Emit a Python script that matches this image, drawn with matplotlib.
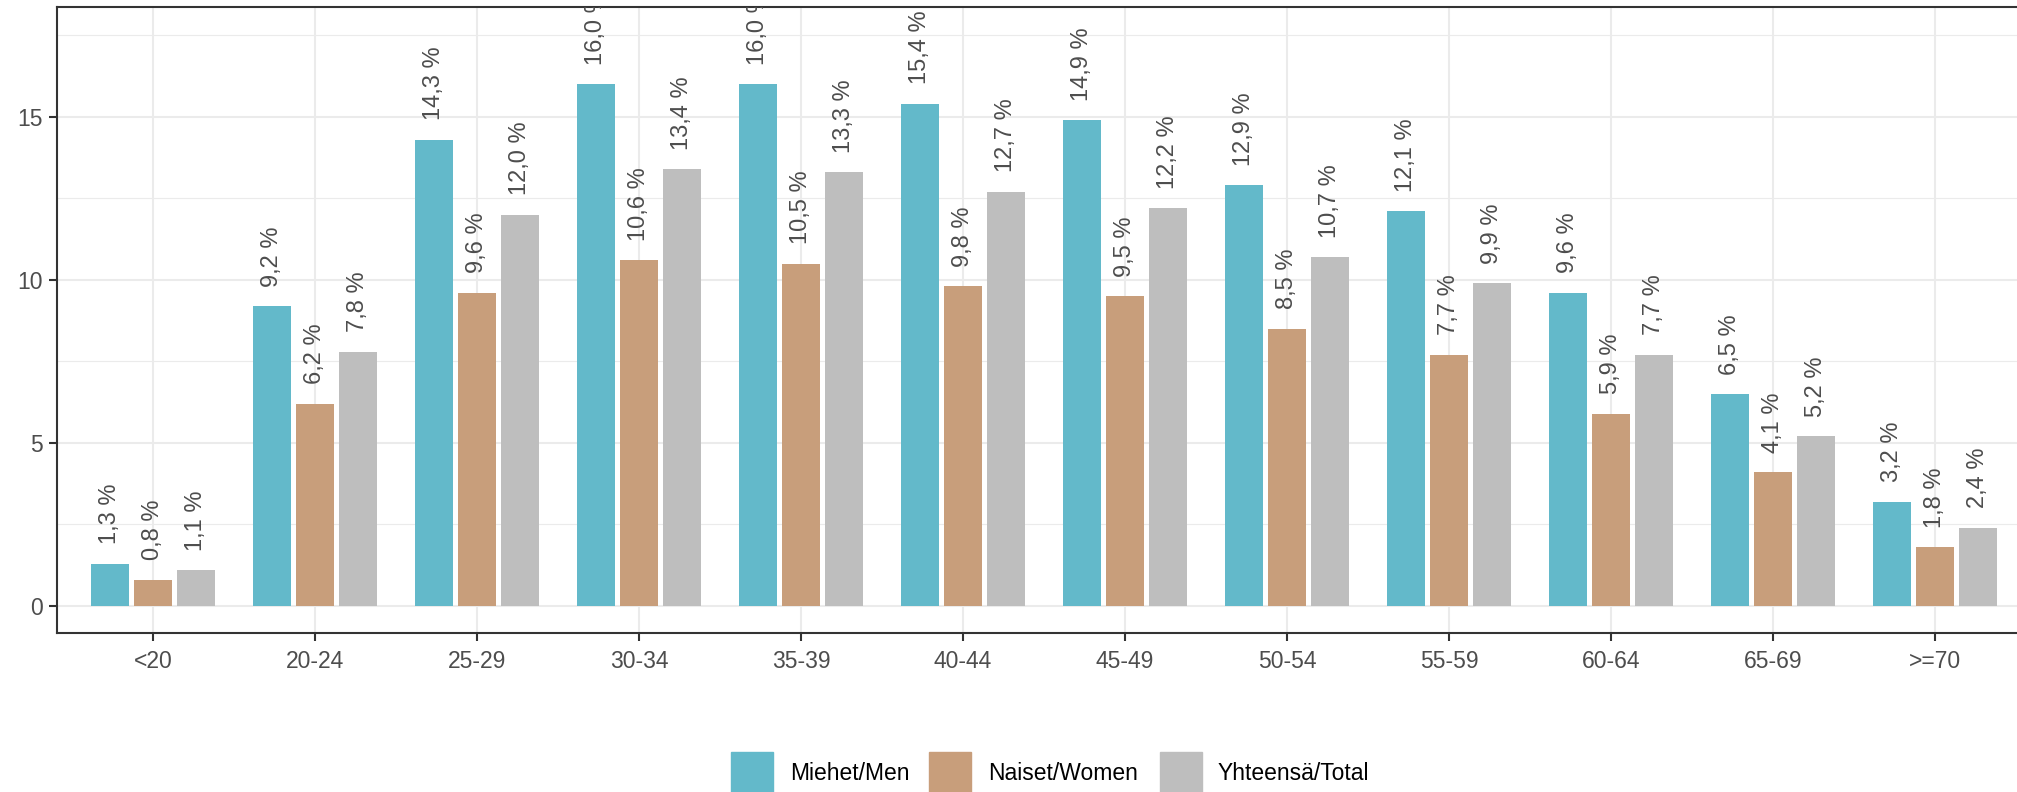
import numpy as np
import matplotlib.pyplot as plt
from matplotlib.patches import Rectangle

plt.rcParams['font.family'] = ['Liberation Sans', 'DejaVu Sans']

# ikäryhmät ja osuudet (%)
ageGroups = ['<20', '20-24', '25-29', '30-34', '35-39', '40-44',
             '45-49', '50-54', '55-59', '60-64', '65-69', '>=70']
men = [1.3, 9.2, 14.3, 16.0, 16.0, 15.4, 14.9, 12.9, 12.1, 9.6, 6.5, 3.2]
women = [0.8, 6.2, 9.6, 10.6, 10.5, 9.8, 9.5, 8.5, 7.7, 5.9, 4.1, 1.8]
total = [1.1, 7.8, 12.0, 13.4, 13.3, 12.7, 12.2, 10.7, 9.9, 7.7, 5.2, 2.4]

seriesNames = ['Miehet/Men', 'Naiset/Women', 'Yhteensä/Total']
colors = ['#63B9CA', '#C89E7B', '#BEBEBE']

W, H = 2017, 792
fig = plt.figure(figsize=(W / 100, H / 100), dpi=100)
ax = fig.add_axes([57 / W, (H - 633) / H, (W - 57) / W, 626 / H])

x = np.arange(len(ageGroups))
slot = 0.266
barWidth = 0.235

for k, (vals, col) in enumerate(zip([men, women, total], colors)):
    pos = x + (k - 1) * slot
    ax.bar(pos, vals, width=barWidth, color=col, zorder=2)
    for px, v in zip(pos, vals):
        ax.annotate(f"{v:.1f} %".replace('.', ','), (px, v),
                    xytext=(0, 14), textcoords='offset points',
                    rotation=90, ha='center', va='bottom',
                    fontsize=17, color='#4D4D4D', annotation_clip=False,
                    clip_on=True)

ax.set_xlim(-0.593, 11.506)
ax.set_ylim(-0.83, 18.37)
ax.set_xticks(x)
ax.set_xticklabels(ageGroups)
ax.set_yticks([0, 5, 10, 15])
ax.set_yticks([2.5, 7.5, 12.5, 17.5], minor=True)

ax.grid(True, which='major', color='#EBEBEB', linewidth=1.5, zorder=0)
ax.grid(True, which='minor', axis='y', color='#EBEBEB', linewidth=0.8, zorder=0)
ax.set_axisbelow(True)

for s in ['left', 'bottom', 'top']:
    ax.spines[s].set_color('#333333')
    ax.spines[s].set_linewidth(1.5)
ax.spines['right'].set_visible(False)

ax.tick_params(axis='both', which='major', length=6, width=1.5, color='#333333',
               labelsize=16.5, labelcolor='#4D4D4D')
ax.tick_params(axis='x', pad=6)
ax.tick_params(axis='y', pad=4)
ax.tick_params(which='minor', length=0)

# selite kuvan alareunassa
keyLeft = [731, 929, 1160]
textLeft = [790, 988, 1218]
for name, col, kx, tx in zip(seriesNames, colors, keyLeft, textLeft):
    fig.patches.append(Rectangle((kx / W, (H - 794) / H), 42 / W, 42 / H,
                                 transform=fig.transFigure, color=col))
    fig.text(tx / W, (H - 773) / H, name, ha='left', va='center',
             fontsize=16.5, color='black')

fig.savefig('out.png', dpi=100)
